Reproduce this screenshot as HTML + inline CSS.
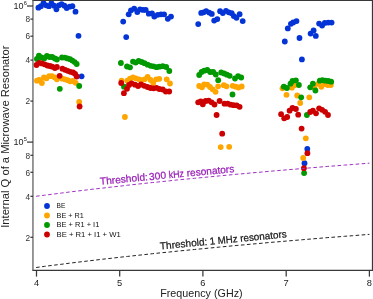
<!DOCTYPE html>
<html><head><meta charset="utf-8"><title>chart</title>
<style>html,body{margin:0;padding:0;background:#fff;width:373px;height:299px;overflow:hidden}body{font-family:"Liberation Sans",sans-serif}</style></head>
<body>
<svg width="373" height="299" viewBox="0 0 373 299" style="display:block;position:absolute;left:0;top:0;will-change:transform" font-family="Liberation Sans, sans-serif">
<rect width="373" height="299" fill="#fff"/>
<g fill="#0434d6"><circle cx="38.4" cy="7.7" r="2.90"/><circle cx="40.9" cy="6.2" r="2.90"/><circle cx="43.5" cy="3.1" r="2.90"/><circle cx="46.2" cy="5.3" r="2.90"/><circle cx="48.9" cy="6.2" r="2.90"/><circle cx="51.4" cy="3.1" r="2.90"/><circle cx="54.0" cy="5.7" r="2.90"/><circle cx="56.4" cy="9.3" r="2.90"/><circle cx="58.9" cy="5.3" r="2.90"/><circle cx="61.6" cy="4.2" r="2.90"/><circle cx="64.4" cy="5.7" r="2.90"/><circle cx="66.7" cy="8.1" r="2.90"/><circle cx="69.7" cy="6.7" r="2.90"/><circle cx="72.4" cy="6.2" r="2.90"/><circle cx="75.5" cy="11.7" r="2.90"/><circle cx="78.5" cy="35.8" r="2.90"/><circle cx="81.6" cy="76.3" r="2.90"/><circle cx="123.2" cy="21.6" r="2.90"/><circle cx="126.2" cy="37.1" r="2.90"/><circle cx="128.7" cy="14.3" r="2.90"/><circle cx="131.0" cy="10.3" r="2.90"/><circle cx="134.2" cy="8.6" r="2.90"/><circle cx="137.3" cy="12.1" r="2.90"/><circle cx="140.0" cy="9.3" r="2.90"/><circle cx="143.0" cy="9.9" r="2.90"/><circle cx="145.7" cy="9.9" r="2.90"/><circle cx="148.8" cy="13.7" r="2.90"/><circle cx="152.0" cy="13.3" r="2.90"/><circle cx="154.3" cy="16.6" r="2.90"/><circle cx="157.7" cy="14.8" r="2.90"/><circle cx="161.0" cy="14.3" r="2.90"/><circle cx="164.1" cy="14.3" r="2.90"/><circle cx="167.8" cy="18.8" r="2.90"/><circle cx="171.0" cy="16.6" r="2.90"/><circle cx="198.2" cy="24.1" r="2.90"/><circle cx="201.2" cy="12.9" r="2.90"/><circle cx="203.6" cy="12.3" r="2.90"/><circle cx="206.2" cy="11.2" r="2.90"/><circle cx="209.2" cy="12.6" r="2.90"/><circle cx="211.8" cy="13.9" r="2.90"/><circle cx="214.2" cy="20.6" r="2.90"/><circle cx="217.3" cy="19.1" r="2.90"/><circle cx="220.1" cy="11.2" r="2.90"/><circle cx="222.8" cy="13.1" r="2.90"/><circle cx="226.0" cy="10.8" r="2.90"/><circle cx="228.8" cy="12.3" r="2.90"/><circle cx="231.7" cy="13.2" r="2.90"/><circle cx="233.8" cy="16.1" r="2.90"/><circle cx="236.5" cy="17.8" r="2.90"/><circle cx="239.6" cy="14.2" r="2.90"/><circle cx="242.7" cy="21.1" r="2.90"/><circle cx="284.8" cy="41.5" r="2.90"/><circle cx="287.8" cy="28.4" r="2.90"/><circle cx="290.9" cy="23.8" r="2.90"/><circle cx="293.2" cy="22.4" r="2.90"/><circle cx="296.5" cy="21.1" r="2.90"/><circle cx="299.5" cy="38.0" r="2.90"/><circle cx="310.6" cy="33.6" r="2.90"/><circle cx="313.6" cy="30.4" r="2.90"/><circle cx="315.8" cy="35.9" r="2.90"/><circle cx="319.1" cy="23.6" r="2.90"/><circle cx="322.1" cy="25.6" r="2.90"/><circle cx="324.8" cy="22.9" r="2.90"/><circle cx="328.3" cy="22.6" r="2.90"/><circle cx="331.6" cy="22.6" r="2.90"/><circle cx="301.9" cy="59.4" r="2.90"/><circle cx="307.3" cy="148.9" r="2.90"/><circle cx="304.5" cy="163.2" r="2.90"/></g>
<g fill="#ffa500"><circle cx="36.9" cy="80.7" r="2.90"/><circle cx="39.2" cy="80.0" r="2.90"/><circle cx="41.9" cy="83.0" r="2.90"/><circle cx="43.9" cy="77.5" r="2.90"/><circle cx="46.5" cy="78.3" r="2.90"/><circle cx="49.1" cy="76.2" r="2.90"/><circle cx="51.9" cy="76.2" r="2.90"/><circle cx="54.5" cy="77.3" r="2.90"/><circle cx="56.9" cy="79.3" r="2.90"/><circle cx="59.6" cy="76.8" r="2.90"/><circle cx="62.4" cy="78.7" r="2.90"/><circle cx="65.1" cy="79.3" r="2.90"/><circle cx="67.7" cy="80.2" r="2.90"/><circle cx="70.1" cy="81.3" r="2.90"/><circle cx="72.8" cy="81.0" r="2.90"/><circle cx="75.7" cy="82.8" r="2.90"/><circle cx="79.2" cy="102.0" r="2.90"/><circle cx="121.6" cy="80.7" r="2.90"/><circle cx="127.4" cy="80.7" r="2.90"/><circle cx="130.0" cy="78.7" r="2.90"/><circle cx="133.0" cy="77.3" r="2.90"/><circle cx="135.8" cy="78.3" r="2.90"/><circle cx="139.0" cy="79.3" r="2.90"/><circle cx="141.6" cy="80.2" r="2.90"/><circle cx="144.7" cy="79.3" r="2.90"/><circle cx="147.6" cy="76.8" r="2.90"/><circle cx="150.6" cy="80.0" r="2.90"/><circle cx="153.2" cy="83.0" r="2.90"/><circle cx="156.2" cy="79.3" r="2.90"/><circle cx="159.3" cy="78.8" r="2.90"/><circle cx="166.7" cy="79.3" r="2.90"/><circle cx="170.0" cy="83.5" r="2.90"/><circle cx="124.9" cy="117.0" r="2.90"/><circle cx="199.2" cy="86.0" r="2.90"/><circle cx="202.0" cy="87.3" r="2.90"/><circle cx="204.2" cy="84.3" r="2.90"/><circle cx="207.3" cy="84.7" r="2.90"/><circle cx="210.0" cy="87.0" r="2.90"/><circle cx="212.7" cy="89.3" r="2.90"/><circle cx="215.6" cy="91.8" r="2.90"/><circle cx="218.1" cy="86.3" r="2.90"/><circle cx="223.8" cy="85.2" r="2.90"/><circle cx="226.5" cy="86.3" r="2.90"/><circle cx="232.7" cy="85.8" r="2.90"/><circle cx="235.7" cy="86.7" r="2.90"/><circle cx="238.5" cy="87.5" r="2.90"/><circle cx="241.7" cy="86.5" r="2.90"/><circle cx="220.7" cy="147.1" r="2.90"/><circle cx="229.2" cy="146.8" r="2.90"/><circle cx="282.5" cy="88.3" r="2.90"/><circle cx="286.5" cy="94.8" r="2.90"/><circle cx="291.9" cy="87.7" r="2.90"/><circle cx="294.5" cy="85.2" r="2.90"/><circle cx="297.2" cy="95.5" r="2.90"/><circle cx="300.2" cy="103.0" r="2.90"/><circle cx="309.3" cy="97.3" r="2.90"/><circle cx="314.4" cy="87.8" r="2.90"/><circle cx="318.1" cy="83.8" r="2.90"/><circle cx="321.3" cy="86.8" r="2.90"/><circle cx="324.2" cy="84.0" r="2.90"/><circle cx="327.6" cy="85.0" r="2.90"/><circle cx="330.8" cy="85.0" r="2.90"/><circle cx="305.8" cy="138.3" r="2.90"/><circle cx="303.2" cy="157.9" r="2.90"/></g>
<g fill="#009900"><circle cx="36.9" cy="59.0" r="2.90"/><circle cx="38.9" cy="55.6" r="2.90"/><circle cx="41.5" cy="57.5" r="2.90"/><circle cx="44.2" cy="58.4" r="2.90"/><circle cx="46.9" cy="56.0" r="2.90"/><circle cx="49.5" cy="57.0" r="2.90"/><circle cx="52.2" cy="57.0" r="2.90"/><circle cx="54.9" cy="58.4" r="2.90"/><circle cx="56.9" cy="59.5" r="2.90"/><circle cx="62.0" cy="57.5" r="2.90"/><circle cx="64.8" cy="57.6" r="2.90"/><circle cx="67.5" cy="58.4" r="2.90"/><circle cx="70.1" cy="59.2" r="2.90"/><circle cx="72.4" cy="60.6" r="2.90"/><circle cx="74.7" cy="62.1" r="2.90"/><circle cx="76.7" cy="64.0" r="2.90"/><circle cx="59.8" cy="88.8" r="2.90"/><circle cx="79.2" cy="86.0" r="2.90"/><circle cx="120.9" cy="63.0" r="2.90"/><circle cx="127.0" cy="66.5" r="2.90"/><circle cx="130.0" cy="67.3" r="2.90"/><circle cx="133.0" cy="61.6" r="2.90"/><circle cx="135.7" cy="62.6" r="2.90"/><circle cx="138.6" cy="61.0" r="2.90"/><circle cx="141.6" cy="62.0" r="2.90"/><circle cx="144.5" cy="63.2" r="2.90"/><circle cx="147.6" cy="64.7" r="2.90"/><circle cx="150.6" cy="65.8" r="2.90"/><circle cx="153.5" cy="66.3" r="2.90"/><circle cx="156.5" cy="67.2" r="2.90"/><circle cx="159.3" cy="66.7" r="2.90"/><circle cx="162.7" cy="66.2" r="2.90"/><circle cx="166.2" cy="67.0" r="2.90"/><circle cx="169.3" cy="71.0" r="2.90"/><circle cx="124.0" cy="86.7" r="2.90"/><circle cx="199.2" cy="75.0" r="2.90"/><circle cx="201.6" cy="72.0" r="2.90"/><circle cx="204.2" cy="70.7" r="2.90"/><circle cx="207.3" cy="70.0" r="2.90"/><circle cx="210.2" cy="72.0" r="2.90"/><circle cx="213.2" cy="72.0" r="2.90"/><circle cx="215.8" cy="74.5" r="2.90"/><circle cx="218.2" cy="80.2" r="2.90"/><circle cx="221.2" cy="72.5" r="2.90"/><circle cx="224.2" cy="73.5" r="2.90"/><circle cx="227.0" cy="74.7" r="2.90"/><circle cx="229.7" cy="75.8" r="2.90"/><circle cx="235.0" cy="78.5" r="2.90"/><circle cx="238.1" cy="76.2" r="2.90"/><circle cx="241.2" cy="77.5" r="2.90"/><circle cx="232.5" cy="94.5" r="2.90"/><circle cx="283.8" cy="86.7" r="2.90"/><circle cx="286.9" cy="88.0" r="2.90"/><circle cx="290.5" cy="83.7" r="2.90"/><circle cx="292.5" cy="81.0" r="2.90"/><circle cx="295.9" cy="80.3" r="2.90"/><circle cx="298.9" cy="85.0" r="2.90"/><circle cx="301.2" cy="97.3" r="2.90"/><circle cx="310.2" cy="87.3" r="2.90"/><circle cx="312.9" cy="83.7" r="2.90"/><circle cx="315.4" cy="90.5" r="2.90"/><circle cx="319.8" cy="80.7" r="2.90"/><circle cx="322.4" cy="80.2" r="2.90"/><circle cx="325.3" cy="80.7" r="2.90"/><circle cx="328.3" cy="81.0" r="2.90"/><circle cx="331.2" cy="81.7" r="2.90"/><circle cx="306.9" cy="115.0" r="2.90"/><circle cx="304.1" cy="173.1" r="2.90"/></g>
<g fill="#cc0000"><circle cx="36.5" cy="65.0" r="2.90"/><circle cx="39.2" cy="62.8" r="2.90"/><circle cx="41.9" cy="63.4" r="2.90"/><circle cx="44.6" cy="64.3" r="2.90"/><circle cx="47.4" cy="65.5" r="2.90"/><circle cx="49.9" cy="66.0" r="2.90"/><circle cx="52.2" cy="66.7" r="2.90"/><circle cx="54.9" cy="68.0" r="2.90"/><circle cx="56.9" cy="67.0" r="2.90"/><circle cx="59.6" cy="75.8" r="2.90"/><circle cx="62.4" cy="68.7" r="2.90"/><circle cx="65.1" cy="69.8" r="2.90"/><circle cx="67.7" cy="70.8" r="2.90"/><circle cx="70.4" cy="71.8" r="2.90"/><circle cx="73.1" cy="72.5" r="2.90"/><circle cx="75.1" cy="73.8" r="2.90"/><circle cx="76.7" cy="76.5" r="2.90"/><circle cx="79.6" cy="106.5" r="2.90"/><circle cx="121.2" cy="83.0" r="2.90"/><circle cx="123.9" cy="93.2" r="2.90"/><circle cx="127.0" cy="88.8" r="2.90"/><circle cx="129.0" cy="85.0" r="2.90"/><circle cx="131.6" cy="83.3" r="2.90"/><circle cx="135.0" cy="84.7" r="2.90"/><circle cx="138.1" cy="86.0" r="2.90"/><circle cx="141.1" cy="84.5" r="2.90"/><circle cx="144.3" cy="85.8" r="2.90"/><circle cx="147.5" cy="87.0" r="2.90"/><circle cx="150.5" cy="88.0" r="2.90"/><circle cx="153.5" cy="88.3" r="2.90"/><circle cx="156.5" cy="87.8" r="2.90"/><circle cx="159.3" cy="89.0" r="2.90"/><circle cx="162.7" cy="89.5" r="2.90"/><circle cx="165.8" cy="91.5" r="2.90"/><circle cx="169.2" cy="91.5" r="2.90"/><circle cx="198.2" cy="102.3" r="2.90"/><circle cx="200.7" cy="101.5" r="2.90"/><circle cx="202.8" cy="104.3" r="2.90"/><circle cx="205.6" cy="101.0" r="2.90"/><circle cx="208.7" cy="100.7" r="2.90"/><circle cx="211.6" cy="102.3" r="2.90"/><circle cx="214.5" cy="104.5" r="2.90"/><circle cx="216.6" cy="115.0" r="2.90"/><circle cx="219.6" cy="101.0" r="2.90"/><circle cx="224.5" cy="103.7" r="2.90"/><circle cx="227.7" cy="103.7" r="2.90"/><circle cx="230.7" cy="104.7" r="2.90"/><circle cx="233.7" cy="105.2" r="2.90"/><circle cx="236.7" cy="105.3" r="2.90"/><circle cx="239.6" cy="106.8" r="2.90"/><circle cx="222.2" cy="133.7" r="2.90"/><circle cx="281.1" cy="114.2" r="2.90"/><circle cx="284.2" cy="118.3" r="2.90"/><circle cx="287.2" cy="117.0" r="2.90"/><circle cx="289.6" cy="110.7" r="2.90"/><circle cx="292.5" cy="108.0" r="2.90"/><circle cx="295.9" cy="109.0" r="2.90"/><circle cx="298.2" cy="114.7" r="2.90"/><circle cx="301.6" cy="128.6" r="2.90"/><circle cx="310.2" cy="112.0" r="2.90"/><circle cx="312.9" cy="110.7" r="2.90"/><circle cx="316.0" cy="113.3" r="2.90"/><circle cx="319.1" cy="108.3" r="2.90"/><circle cx="322.1" cy="109.8" r="2.90"/><circle cx="325.1" cy="111.8" r="2.90"/><circle cx="328.0" cy="115.0" r="2.90"/><circle cx="307.4" cy="153.2" r="2.90"/><circle cx="303.9" cy="168.2" r="2.90"/></g>
<polyline points="36.1,196.3 44.4,195.2 52.7,194.2 61.1,193.1 69.4,192.0 77.7,191.0 86.1,190.0 94.4,189.0 102.7,188.1 111.1,187.1 119.4,186.2 127.7,185.2 136.1,184.3 144.4,183.4 152.7,182.5 161.1,181.7 169.4,180.8 177.7,179.9 186.1,179.1 194.4,178.3 202.8,177.5 211.1,176.7 219.4,175.9 227.8,175.1 236.1,174.3 244.4,173.6 252.8,172.8 261.1,172.1 269.4,171.3 277.8,170.6 286.1,169.9 294.4,169.2 302.8,168.5 311.1,167.8 319.4,167.1 327.8,166.4 336.1,165.8 344.4,165.1 352.8,164.5 361.1,163.8 369.4,163.2" fill="none" stroke="#a030c4" stroke-width="1" stroke-dasharray="3.6 2.46"/>
<polyline points="36.1,267.5 44.4,266.4 52.7,265.3 61.1,264.3 69.4,263.2 77.7,262.2 86.1,261.2 94.4,260.2 102.7,259.2 111.1,258.3 119.4,257.3 127.7,256.4 136.1,255.5 144.4,254.6 152.7,253.7 161.1,252.8 169.4,252.0 177.7,251.1 186.1,250.3 194.4,249.5 202.8,248.7 211.1,247.9 219.4,247.1 227.8,246.3 236.1,245.5 244.4,244.8 252.8,244.0 261.1,243.3 269.4,242.5 277.8,241.8 286.1,241.1 294.4,240.4 302.8,239.7 311.1,239.0 319.4,238.3 327.8,237.6 336.1,237.0 344.4,236.3 352.8,235.7 361.1,235.0 369.4,234.4" fill="none" stroke="#222" stroke-width="1" stroke-dasharray="3.6 2.46"/>
<g stroke="#383838" stroke-width="1.25" fill="none" shape-rendering="auto"><path d="M32.35 0.35 H372.50 V270.40 H32.35"/><path d="M32.95 0.35 V270.40" stroke="#5c5c5c"/><path d="M36.5 270.4 v6.2"/><path d="M119.7 270.4 v6.2"/><path d="M202.9 270.4 v6.2"/><path d="M286.2 270.4 v6.2"/><path d="M369.4 270.4 v6.2"/><path d="M33.0 6.0 h-6"/><path d="M33.0 142.1 h-6"/><path d="M33.0 19.1 h-2.6"/><path d="M33.0 36.2 h-2.6"/><path d="M33.0 60.1 h-2.6"/><path d="M33.0 101.1 h-2.6"/><path d="M33.0 155.3 h-2.6"/><path d="M33.0 172.3 h-2.6"/><path d="M33.0 196.3 h-2.6"/><path d="M33.0 237.3 h-2.6"/></g>
<g fill="#222" font-size="9.3" text-anchor="middle"><text x="36.5" y="286.2">4</text><text x="119.7" y="286.2">5</text><text x="202.9" y="286.2">6</text><text x="286.2" y="286.2">7</text><text x="369.4" y="286.2">8</text></g>
<g fill="#333" font-size="8.3" text-anchor="end"><text x="30.0" y="22.3">8</text><text x="30.0" y="39.4">6</text><text x="30.0" y="63.3">4</text><text x="30.0" y="104.3">2</text><text x="30.0" y="158.5">8</text><text x="30.0" y="175.5">6</text><text x="30.0" y="199.5">4</text><text x="30.0" y="240.5">2</text></g>
<text x="13.6" y="8.8" font-size="9" fill="#222">10</text><text x="23.7" y="4.8" font-size="5.7" fill="#222">6</text>
<text x="13.6" y="145.0" font-size="9" fill="#222">10</text><text x="23.7" y="140.9" font-size="5.7" fill="#222">5</text>
<text x="160.2" y="296.7" font-size="10.8" fill="#222" textLength="82.4" lengthAdjust="spacingAndGlyphs">Frequency (GHz)</text>
<text transform="translate(8.9,227.8) rotate(-90)" font-size="10.8" fill="#222" textLength="182.2" lengthAdjust="spacingAndGlyphs">Internal Q of a Microwave Resonator</text>
<circle cx="47.0" cy="206.0" r="2.90" fill="#0434d6"/><text x="56.6" y="208.3" font-size="7.8" fill="#111" textLength="8.8" lengthAdjust="spacingAndGlyphs">BE</text>
<circle cx="47.0" cy="215.5" r="2.90" fill="#ffa500"/><text x="56.6" y="217.8" font-size="7.8" fill="#111" textLength="27.3" lengthAdjust="spacingAndGlyphs">BE + R1</text>
<circle cx="47.0" cy="225.0" r="2.90" fill="#009900"/><text x="56.6" y="227.3" font-size="7.8" fill="#111" textLength="42.7" lengthAdjust="spacingAndGlyphs">BE + R1 + I1</text>
<circle cx="47.0" cy="234.5" r="2.90" fill="#cc0000"/><text x="56.6" y="236.8" font-size="7.8" fill="#111" textLength="64.1" lengthAdjust="spacingAndGlyphs">BE + R1 + I1 + W1</text>
<g transform="translate(100.4,184.8) rotate(-5.40)" font-size="10.1" fill="#9a20b8" stroke="#9a20b8" stroke-width="0.25"><text x="-0.2" textLength="48.1" lengthAdjust="spacingAndGlyphs">Threshold:</text><text x="49.2" textLength="17.0" lengthAdjust="spacingAndGlyphs">300</text><text x="68.9" textLength="15.3" lengthAdjust="spacingAndGlyphs">kHz</text><text x="87.0" textLength="47.7" lengthAdjust="spacingAndGlyphs">resonators</text></g>
<g transform="translate(160.4,249.5) rotate(-5.50)" font-size="10.1" fill="#1a1a1a" stroke="#1a1a1a" stroke-width="0.25"><text x="-0.2" textLength="47.6" lengthAdjust="spacingAndGlyphs">Threshold:</text><text x="49.9" textLength="5.5" lengthAdjust="spacingAndGlyphs">1</text><text x="57.9" textLength="19.8" lengthAdjust="spacingAndGlyphs">MHz</text><text x="80.4" textLength="46.8" lengthAdjust="spacingAndGlyphs">resonators</text></g>
</svg>
</body></html>
